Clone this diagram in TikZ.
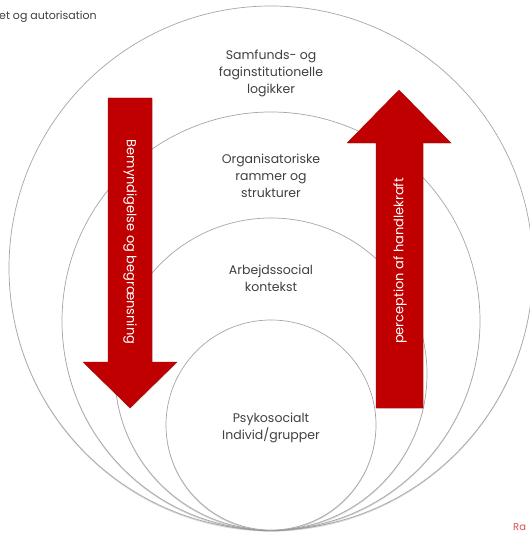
\documentclass[tikz,border=0pt]{standalone}
\usepackage{fontspec}
\setmainfont{Poppins}
\usetikzlibrary{shadows}
\definecolor{arrowred}{HTML}{C00000}
\definecolor{labelgray}{HTML}{404040}
\definecolor{ringgray}{HTML}{A6A6A6}
\definecolor{notered}{HTML}{E05050}
\tikzset{
  ring/.style={circle, draw=ringgray, line width=0.7pt, fill=white, inner sep=0pt,
    drop shadow={opacity=0.3, shadow xshift=0pt, shadow yshift=-1.4pt}},
  lbl/.style={align=center, text=labelgray, font=\fontsize{12.5}{17}\selectfont},
  arrowbody/.style={fill=arrowred, draw=arrowred!80!black, line width=0.3pt,
    drop shadow={opacity=0.2, shadow xshift=0.8pt, shadow yshift=-0.8pt}},
  arrowtext/.style={text=white, font=\fontsize{13}{15}\selectfont, inner sep=0pt}
}
\begin{document}
\begin{tikzpicture}[x=1pt, y=-1pt]
\useasboundingbox (0,0) rectangle (529,534);
\fill[white] (0,0) rectangle (529,534);

% nested circles, all touching at the bottom
\node[ring, minimum size=524pt] (outer) at (271,268) {};
\node[ring, minimum size=418pt] (org)   at (271,321) {};
\node[ring, minimum size=312pt] (work)  at (271,374) {};
\node[ring, minimum size=210pt] (indiv) at (271,425) {};

% level labels
\node[lbl] (louter) at (271,73)  {Samfunds- og\\faginstitutionelle\\logikker};
\node[lbl] (lorg)   at (271,176) {Organisatoriske\\rammer og\\strukturer};
\node[lbl] (lwork)  at (271,278) {Arbejdssocial\\kontekst};
\node[lbl] (lindiv) at (271,428) {Psykosocialt\\Individ/grupper};

% downward arrow
\draw[arrowbody] (108,98) -- (152,98) -- (152,362) -- (177,362) -- (130,408)
  -- (83,362) -- (108,362) -- cycle;
\node[arrowtext, rotate=-90] (tdown) at (130,242) {Bemyndigelse og begrænsning};

% upward arrow
\draw[arrowbody] (376,408) -- (423,408) -- (423,143) -- (451,143) -- (399,90)
  -- (347,143) -- (376,143) -- cycle;
\node[arrowtext, rotate=90] (tup) at (400,261) {perception af handlekraft};

% edge texts
\node[anchor=west, text=labelgray, font=\fontsize{11}{13}\selectfont, inner sep=0pt]
  (ltop) at (-1,17) {et og autorisation};
\node[anchor=west, text=notered, font=\fontsize{10}{12}\selectfont, inner sep=0pt]
  (lref) at (513,527) {Ra};
\end{tikzpicture}
\end{document}
